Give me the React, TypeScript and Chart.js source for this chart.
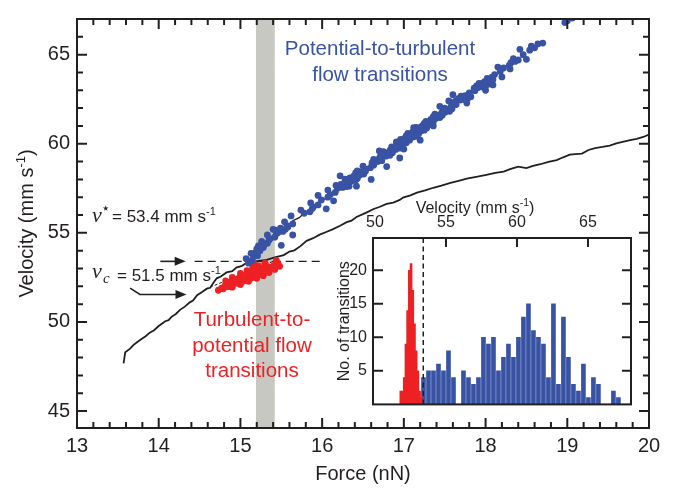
import React, { useEffect, useRef } from "react";
import { Chart, registerables } from "chart.js";

Chart.register(...registerables);

// ---------------- data ----------------
const forceTicks = [13, 14, 15, 16, 17, 18, 19, 20];
const velocityTicks = [45, 50, 55, 60, 65];
const forceRange = [13, 20];
const velocityRange = [44.05, 67];

// potential-to-turbulent transitions [force nN, velocity mm/s]
const potentialToTurbulent: [number, number][] = [
  [15.10, 53.30], [15.14, 53.45], [15.07, 53.55],
  [15.16, 53.65], [15.21, 53.72], [15.13, 53.85], [15.19, 53.92],
  [15.24, 54.0], [15.20, 54.10], [15.28, 54.18], [15.22, 54.27],
  [15.28, 54.35], [15.33, 54.42], [15.26, 54.52], [15.35, 54.6],
  [15.36, 54.68], [15.42, 54.76], [15.33, 54.88], [15.44, 54.95],
  [15.46, 55.02], [15.52, 55.08], [15.43, 55.15], [15.55, 55.2], [15.49, 55.27], [15.58, 55.33],
  [15.57, 55.4], [15.64, 55.5], [15.54, 55.62],
  [15.78, 56.1], [15.85, 56.18], [15.74, 56.28], [15.88, 56.36],
  [15.89, 56.45], [15.95, 56.57], [15.86, 56.68],
  [15.99, 56.85], [16.07, 57.0],
  [16.10, 57.15], [16.16, 57.27], [16.07, 57.4],
  [16.19, 57.5], [16.25, 57.55], [16.30, 57.6], [16.17, 57.66], [16.23, 57.72], [16.33, 57.62], [16.27, 57.78],
  [16.30, 57.85], [16.36, 57.9], [16.41, 57.96], [16.28, 58.02], [16.34, 58.08], [16.43, 58.05], [16.38, 58.13],
  [16.39, 58.2], [16.46, 58.24], [16.51, 58.3], [16.41, 58.36], [16.48, 58.42], [16.53, 58.45], [16.43, 58.48], [16.22, 58.2],
  [16.53, 58.58], [16.59, 58.66], [16.50, 58.74], [16.63, 58.8],
  [16.61, 58.92], [16.68, 59.0], [16.73, 59.05], [16.63, 59.12], [16.70, 59.18],
  [16.71, 59.26], [16.78, 59.3], [16.83, 59.35], [16.73, 59.42], [16.80, 59.47], [16.86, 59.5], [16.75, 59.55],
  [16.83, 59.62], [16.90, 59.68], [16.95, 59.75], [16.85, 59.82], [16.91, 59.88],
  [16.93, 59.95], [16.99, 60.0], [17.03, 60.05], [16.91, 60.1], [17.01, 60.15], [17.07, 60.2], [16.96, 60.24],
  [17.01, 60.3], [17.06, 60.33], [17.11, 60.38], [17.15, 60.42], [17.03, 60.45], [17.09, 60.5], [17.13, 60.52], [17.18, 60.55], [17.05, 60.58], [17.11, 60.61],
  [17.11, 60.66], [17.16, 60.7], [17.21, 60.72], [17.25, 60.76], [17.13, 60.8], [17.19, 60.82], [17.23, 60.86], [17.28, 60.88], [17.15, 60.92], [17.21, 60.95], [17.26, 60.97],
  [17.23, 61.02], [17.28, 61.06], [17.33, 61.1], [17.25, 61.14], [17.31, 61.18], [17.36, 61.22], [17.27, 61.26], [17.33, 61.3],
  [17.33, 61.36], [17.39, 61.42], [17.44, 61.47], [17.36, 61.52], [17.42, 61.57], [17.47, 61.6], [17.38, 61.66],
  [17.46, 61.72], [17.51, 61.78], [17.56, 61.82], [17.48, 61.88], [17.54, 61.93], [17.59, 61.96], [17.50, 62.0],
  [17.58, 62.1], [17.64, 62.2], [17.61, 62.32],
  [17.64, 62.42], [17.69, 62.45], [17.74, 62.48], [17.78, 62.52], [17.67, 62.55], [17.72, 62.58], [17.77, 62.61], [17.82, 62.64], [17.70, 62.67], [17.75, 62.7], [17.80, 62.73],
  [17.80, 62.85], [17.87, 62.98],
  [17.86, 63.12], [17.91, 63.15], [17.96, 63.19], [18.0, 63.22], [17.89, 63.25], [17.94, 63.28], [17.99, 63.32], [18.04, 63.35], [17.92, 63.38], [17.97, 63.42],
  [17.99, 63.48], [18.04, 63.55], [18.09, 63.6], [18.02, 63.66], [18.08, 63.74], [18.20, 63.75],
  [18.11, 63.88], [18.18, 64.05],
  [18.22, 64.25], [18.29, 64.4],
  [18.31, 64.55], [18.36, 64.62], [18.40, 64.7], [18.34, 64.78],
  [18.46, 65.0],
  [18.54, 65.25], [18.60, 65.38], [18.56, 65.48],
  [18.64, 65.6], [18.70, 65.65],
  [18.97, 66.8], [19.0, 66.9], [19.06, 67.05],
  // points scattered off the main band
  [15.64, 54.88], [15.5, 54.3], [15.95, 57.1], [16.05, 56.35], [16.42, 57.62], [16.6, 58.0], [16.79, 58.72],
  [16.91, 60.08], [16.95, 59.2], [17.2, 60.2], [17.12, 60.9], [17.36, 61.0], [17.44, 62.1], [17.55, 62.4],
  [17.77, 62.28], [18.0, 63.0], [18.09, 63.3], [18.3, 64.2], [18.42, 65.3], [18.5, 64.74], [15.4, 55.2],
  [15.62, 55.95], [16.14, 56.8], [16.7, 59.6], [17.0, 59.7], [17.6, 62.75], [18.15, 64.3],
];

// turbulent-to-potential transitions [force nN, velocity mm/s]
const turbulentToPotential: [number, number][] = [
  [14.73, 51.78], [14.79, 51.86], [14.77, 51.9], [14.85, 51.98], [14.81, 52.02], [14.89, 52.05], [14.85, 52.1],
  [14.85, 52.13], [14.91, 52.15], [14.96, 52.17], [14.89, 52.2], [14.94, 52.22], [14.99, 52.23],
  [14.89, 52.25], [14.94, 52.26], [14.99, 52.28], [15.03, 52.29], [14.92, 52.31], [14.97, 52.32], [15.01, 52.33], [15.06, 52.34], [14.95, 52.35], [15.0, 52.35],
  [14.94, 52.37], [14.98, 52.38], [15.02, 52.39], [15.06, 52.4], [15.1, 52.41], [14.96, 52.42], [15.01, 52.43], [15.05, 52.44], [15.09, 52.44], [15.13, 52.45], [14.99, 52.46], [15.04, 52.46], [15.08, 52.47], [15.11, 52.47],
  [14.99, 52.49], [15.03, 52.5], [15.07, 52.5], [15.11, 52.51], [15.15, 52.52], [15.01, 52.53], [15.05, 52.54], [15.09, 52.55], [15.13, 52.55], [15.17, 52.56], [15.04, 52.57], [15.08, 52.58], [15.12, 52.58], [15.16, 52.59], [15.2, 52.59],
  [15.06, 52.61], [15.1, 52.62], [15.14, 52.63], [15.18, 52.64], [15.22, 52.65], [15.08, 52.66], [15.12, 52.67], [15.16, 52.68], [15.2, 52.69], [15.24, 52.7], [15.11, 52.71], [15.17, 52.72],
  [15.11, 52.74], [15.16, 52.76], [15.21, 52.77], [15.26, 52.78], [15.14, 52.8], [15.19, 52.81], [15.24, 52.82], [15.29, 52.83],
  [15.18, 52.86], [15.23, 52.88], [15.28, 52.9], [15.21, 52.93], [15.31, 52.92], [15.26, 52.95],
  [15.24, 52.98], [15.29, 53.0], [15.34, 53.04], [15.37, 53.06],
  [15.33, 53.1], [15.41, 53.18],
  [15.46, 53.28], [15.16, 53.3], [15.44, 53.45],
  // edges of the band
  [14.82, 52.3], [14.9, 52.5], [15.0, 52.72], [15.08, 52.88], [15.15, 53.02], [15.22, 53.15], [15.3, 53.3],
  [15.0, 52.1], [15.1, 52.28], [15.2, 52.45], [15.28, 52.6], [15.35, 52.77], [15.42, 52.95], [15.48, 53.12], [14.9, 51.95],
];

// measured force sweep (black trace)
const forceSweep: [number, number][] = [
  [13.57, 47.67], [13.59, 48.3], [13.65, 48.5], [13.69, 48.7], [13.73, 48.85], [13.79, 49.04], [13.84, 49.2],
  [13.89, 49.4], [13.94, 49.52], [14.0, 49.77], [14.08, 50.04], [14.12, 50.1], [14.16, 50.3], [14.21, 50.45],
  [14.26, 50.68], [14.32, 50.86], [14.38, 51.1], [14.42, 51.2], [14.47, 51.5], [14.53, 51.68], [14.59, 51.87],
  [14.63, 51.92], [14.67, 52.2], [14.71, 52.45], [14.76, 52.55], [14.83, 52.78], [14.9, 52.85], [14.95, 53.05],
  [15.02, 53.15], [15.08, 53.33], [15.15, 53.36], [15.22, 53.42], [15.32, 53.48], [15.42, 53.62], [15.53, 53.75],
  [15.6, 53.95], [15.66, 54.02], [15.73, 54.24], [15.81, 54.55], [15.89, 54.7], [15.97, 54.9], [16.05, 55.05],
  [16.12, 55.18], [16.22, 55.4], [16.3, 55.6], [16.36, 55.68], [16.42, 55.89], [16.5, 56.05], [16.56, 56.18],
  [16.63, 56.34], [16.7, 56.45], [16.79, 56.62], [16.87, 56.7], [16.95, 56.85], [16.99, 56.98], [17.08, 57.1],
  [17.16, 57.26], [17.26, 57.38], [17.36, 57.53], [17.46, 57.65], [17.57, 57.81], [17.67, 57.92], [17.77, 58.04],
  [17.9, 58.15], [18.01, 58.26], [18.12, 58.36], [18.22, 58.44], [18.3, 58.58], [18.4, 58.72], [18.5, 58.63],
  [18.58, 58.76], [18.67, 58.85], [18.77, 58.98], [18.87, 59.08], [18.95, 59.24], [19.03, 59.39], [19.1, 59.42],
  [19.18, 59.45], [19.26, 59.65], [19.34, 59.76], [19.43, 59.82], [19.52, 59.9], [19.6, 60.02], [19.69, 60.12],
  [19.77, 60.2], [19.85, 60.27], [19.93, 60.38], [20.0, 60.52],
];

// second trace running under the blue points
const upperSweep: [number, number][] = [
  [15.08, 53.33], [15.18, 53.6], [15.24, 53.85], [15.3, 54.15], [15.37, 54.5], [15.44, 54.85], [15.53, 55.3],
  [15.6, 55.5], [15.65, 55.7], [15.72, 55.85], [15.77, 56.07], [15.85, 56.29], [15.92, 56.5], [15.98, 56.75],
  [16.09, 57.07], [16.15, 57.2], [16.22, 57.5], [16.3, 57.72], [16.38, 57.95], [16.47, 58.3], [16.55, 58.55],
  [16.63, 58.8], [16.72, 59.2], [16.8, 59.55],
];

const redFit: [number, number][] = [[14.57, 51.84], [15.4, 53.4]];
const greyBand = [15.19, 15.42];
const vStar = 53.4;
const vStarDash = [14.44, 16.0];
const vStarArrow: [number, number][] = [[14.02, 53.4], [14.33, 53.4]];
const vcArrow: [number, number][] = [[13.65, 51.9], [13.77, 51.54], [14.34, 51.54]];

// inset histogram
const histVelocityTicks = [50, 55, 60, 65];
const histCountTicks = [5, 10, 15, 20];
const histVelocityRange = [49.86, 68.03];
const histCountMax = 24.8;
const blueBinStart = 53.24;
const blueBinWidth = 0.352;
const blueCounts = [4, 5, 5, 6, 5, 8, 4, 0, 5, 4, 3, 4, 10, 9, 10, 5, 7, 9, 7, 10, 13, 15, 11, 10, 9, 4, 15, 3, 13, 7, 3, 2, 6, 1, 4, 3, 0, 0, 2, 1];
const redBinStart = 51.76;
const redBinWidth = 0.12;
const redCounts = [2, 2, 4, 9, 14, 20, 21, 17, 12, 8, 5, 2, 1];

// ---------------- styles ----------------
const BLUE = "#3953a4";
const RED = "#ed2124";
const GREY = "#c7c8c1";
const INK = "#231f20";
const SANS = "'Liberation Sans', Arial, Helvetica, sans-serif";
const SERIF = "'Liberation Serif', 'Times New Roman', serif";

type Part = { t: string; f: string; dy?: number };

function drawRich(ctx: CanvasRenderingContext2D, parts: Part[], x: number, y: number, align: "left" | "center") {
  let total = 0;
  for (const p of parts) {
    ctx.font = p.f;
    total += ctx.measureText(p.t).width;
  }
  let cx = align === "center" ? x - total / 2 : x;
  ctx.textAlign = "left";
  ctx.textBaseline = "alphabetic";
  for (const p of parts) {
    ctx.font = p.f;
    ctx.fillText(p.t, cx, y + (p.dy || 0));
    cx += ctx.measureText(p.t).width;
  }
}

function arrow(ctx: CanvasRenderingContext2D, pts: [number, number][]) {
  const n = pts.length;
  const [tx, ty] = pts[n - 1];
  const [px, py] = pts[n - 2];
  const ang = Math.atan2(ty - py, tx - px);
  const head = 11;
  const half = 4.5;
  ctx.beginPath();
  ctx.moveTo(pts[0][0], pts[0][1]);
  for (let i = 1; i < n - 1; i++) ctx.lineTo(pts[i][0], pts[i][1]);
  ctx.lineTo(tx - Math.cos(ang) * head * 0.8, ty - Math.sin(ang) * head * 0.8);
  ctx.stroke();
  ctx.beginPath();
  ctx.moveTo(tx, ty);
  ctx.lineTo(tx - Math.cos(ang) * head + Math.sin(ang) * half, ty - Math.sin(ang) * head - Math.cos(ang) * half);
  ctx.lineTo(tx - Math.cos(ang) * head - Math.sin(ang) * half, ty - Math.sin(ang) * head + Math.cos(ang) * half);
  ctx.closePath();
  ctx.fill();
}

const mainDecor = {
  id: "mainDecor",
  beforeDatasetsDraw(chart: any) {
    const { ctx, chartArea: a, scales } = chart;
    const x = scales.x, y = scales.y;
    ctx.save();
    ctx.fillStyle = GREY;
    const x0 = x.getPixelForValue(greyBand[0]);
    const x1 = x.getPixelForValue(greyBand[1]);
    ctx.fillRect(x0, a.top, x1 - x0, a.bottom - a.top);
    ctx.strokeStyle = INK;
    ctx.lineWidth = 1.4;
    ctx.setLineDash([8, 5]);
    const yy = y.getPixelForValue(vStar);
    ctx.beginPath();
    ctx.moveTo(x.getPixelForValue(vStarDash[0]), yy);
    ctx.lineTo(x.getPixelForValue(vStarDash[1]), yy);
    ctx.stroke();
    ctx.restore();
  },
  afterDatasetsDraw(chart: any) {
    const { ctx, chartArea: a, scales } = chart;
    const x = scales.x, y = scales.y;
    ctx.save();
    ctx.strokeStyle = INK;
    ctx.fillStyle = INK;
    ctx.lineWidth = 2;
    ctx.strokeRect(a.left, a.top, a.right - a.left, a.bottom - a.top);
    ctx.beginPath();
    for (let i = 0; i <= 35; i++) {
      const f = forceRange[0] + i * 0.2;
      const L = i % 5 === 0 ? 10 : 6;
      const px = x.getPixelForValue(f);
      ctx.moveTo(px, a.bottom); ctx.lineTo(px, a.bottom - L);
      ctx.moveTo(px, a.top); ctx.lineTo(px, a.top + L);
    }
    for (let v = 45; v <= 66; v++) {
      const L = v % 5 === 0 ? 10 : 6;
      const py = y.getPixelForValue(v);
      ctx.moveTo(a.left, py); ctx.lineTo(a.left + L, py);
      ctx.moveTo(a.right, py); ctx.lineTo(a.right - L, py);
    }
    ctx.stroke();

    // arrows
    ctx.lineWidth = 1.6;
    const toPx = (p: [number, number]): [number, number] => [x.getPixelForValue(p[0]), y.getPixelForValue(p[1])];
    arrow(ctx, vStarArrow.map(toPx));
    arrow(ctx, vcArrow.map(toPx));

    // v* and vc labels
    ctx.fillStyle = INK;
    drawRich(ctx, [{ t: "v", f: `italic 22px ${SERIF}` }], 92, 222, "left");
    drawRich(ctx, [{ t: "\u22C6", f: `15px 'DejaVu Sans', sans-serif` }], 101, 213, "left");
    drawRich(ctx, [
      { t: "= 53.4 mm s", f: `17px ${SANS}` },
      { t: "-1", f: `11px ${SANS}`, dy: -7 },
    ], 112, 222, "left");
    drawRich(ctx, [{ t: "v", f: `italic 22px ${SERIF}` }], 92, 278, "left");
    drawRich(ctx, [{ t: "c", f: `italic 15px ${SERIF}` }], 103, 283, "left");
    drawRich(ctx, [
      { t: "= 51.5 mm s", f: `17px ${SANS}` },
      { t: "-1", f: `11px ${SANS}`, dy: -7 },
    ], 117, 281, "left");

    // series labels
    ctx.fillStyle = BLUE;
    drawRich(ctx, [{ t: "Potential-to-turbulent", f: `20.5px ${SANS}` }], 380, 55, "center");
    drawRich(ctx, [{ t: "flow transitions", f: `20.5px ${SANS}` }], 380, 81, "center");
    ctx.fillStyle = RED;
    drawRich(ctx, [{ t: "Turbulent-to-", f: `20.5px ${SANS}` }], 252, 326, "center");
    drawRich(ctx, [{ t: "potential flow", f: `20.5px ${SANS}` }], 252, 352, "center");
    drawRich(ctx, [{ t: "transitions", f: `20.5px ${SANS}` }], 252, 377, "center");

    // axis titles
    ctx.fillStyle = INK;
    drawRich(ctx, [{ t: "Force (nN)", f: `20px ${SANS}` }], (a.left + a.right) / 2, 480, "center");
    ctx.translate(33, (a.top + a.bottom) / 2);
    ctx.rotate(-Math.PI / 2);
    drawRich(ctx, [
      { t: "Velocity (mm s", f: `20px ${SANS}` },
      { t: "-1", f: `13px ${SANS}`, dy: -8 },
      { t: ")", f: `20px ${SANS}` },
    ], 0, 0, "center");
    ctx.restore();
  },
};

const insetDecor = {
  id: "insetDecor",
  afterDatasetsDraw(chart: any) {
    const { ctx, chartArea: a, scales } = chart;
    const x = scales.x, y = scales.y;
    ctx.save();
    ctx.strokeStyle = INK;
    ctx.fillStyle = INK;
    // dashed v* marker
    ctx.lineWidth = 1.5;
    ctx.setLineDash([5, 3.5]);
    const vx = x.getPixelForValue(vStar);
    ctx.beginPath();
    ctx.moveTo(vx, a.bottom);
    ctx.lineTo(vx, a.top);
    ctx.stroke();
    ctx.setLineDash([]);
    // frame + ticks
    ctx.lineWidth = 2;
    ctx.strokeRect(a.left, a.top, a.right - a.left, a.bottom - a.top);
    ctx.beginPath();
    for (const v of histVelocityTicks) {
      const px = x.getPixelForValue(v);
      if (px - a.left < 5) continue;
      ctx.moveTo(px, a.top); ctx.lineTo(px, a.top + 9);
    }
    for (const c of histCountTicks) {
      const py = y.getPixelForValue(c);
      ctx.moveTo(a.left, py); ctx.lineTo(a.left + 10, py);
      ctx.moveTo(a.right, py); ctx.lineTo(a.right - 9, py);
    }
    ctx.stroke();
    // titles
    drawRich(ctx, [
      { t: "Velocity (mm s", f: `16px ${SANS}` },
      { t: "-1", f: `10.5px ${SANS}`, dy: -7 },
      { t: ")", f: `16px ${SANS}` },
    ], 175, 23, "center");
    ctx.translate(49, (a.top + a.bottom) / 2);
    ctx.rotate(-Math.PI / 2);
    drawRich(ctx, [{ t: "No. of transitions", f: `16px ${SANS}` }], 0, 0, "center");
    ctx.restore();
  },
};

export default function App() {
  const mainRef = useRef<HTMLCanvasElement>(null);
  const insetRef = useRef<HTMLCanvasElement>(null);

  useEffect(() => {
    const pts = (arr: [number, number][]) => arr.map(([fx, vy]) => ({ x: fx, y: vy }));
    const main = new Chart(mainRef.current as HTMLCanvasElement, {
      type: "scatter",
      data: {
        datasets: [
          { data: pts(potentialToTurbulent), backgroundColor: BLUE, borderWidth: 0, pointRadius: 3.4, pointHoverRadius: 3.4 },
          { data: pts(turbulentToPotential), backgroundColor: RED, borderWidth: 0, pointRadius: 3.4, pointHoverRadius: 3.4 },
          { data: pts(forceSweep), showLine: true, borderColor: INK, borderWidth: 1.8, pointRadius: 0, tension: 0 },
          { data: pts(upperSweep), showLine: true, borderColor: INK, borderWidth: 1.3, pointRadius: 0, tension: 0 },
          { data: pts(redFit), showLine: true, borderColor: INK, borderWidth: 1, borderDash: [3, 2], pointRadius: 0 },
        ] as any,
      },
      options: {
        responsive: false,
        animation: false,
        devicePixelRatio: 1,
        events: [],
        layout: { padding: { top: 11, right: 27, bottom: 0, left: 0 } },
        plugins: { legend: { display: false }, tooltip: { enabled: false } },
        scales: {
          x: {
            type: "linear",
            min: forceRange[0],
            max: forceRange[1],
            grid: { display: false, drawTicks: false },
            border: { display: false },
            ticks: { font: { family: SANS, size: 20 }, color: INK, padding: 6, autoSkip: false, maxRotation: 0, callback: (v: any) => String(v) },
            afterBuildTicks: (s: any) => { s.ticks = forceTicks.map((value) => ({ value })); },
            afterFit: (s: any) => { s.height = 60; },
          },
          y: {
            type: "linear",
            min: velocityRange[0],
            max: velocityRange[1],
            grid: { display: false, drawTicks: false },
            border: { display: false },
            ticks: { font: { family: SANS, size: 20 }, color: INK, padding: 7, autoSkip: false, callback: (v: any) => String(v) },
            afterBuildTicks: (s: any) => { s.ticks = velocityTicks.map((value) => ({ value })); },
            afterFit: (s: any) => { s.width = 77; },
          },
        },
      } as any,
      plugins: [mainDecor],
    });

    const blueBars = blueCounts.map((c, i) => ({ x: blueBinStart + (i + 0.5) * blueBinWidth, y: c }));
    const redBars = redCounts.map((c, i) => ({ x: redBinStart + (i + 0.5) * redBinWidth, y: c }));
    const inset = new Chart(insetRef.current as HTMLCanvasElement, {
      type: "bar",
      data: {
        datasets: [
          { data: redBars, backgroundColor: RED, borderWidth: 0, barThickness: 2, grouped: false },
          { data: blueBars, backgroundColor: BLUE, borderWidth: 0, barThickness: 4, grouped: false },
        ] as any,
      },
      options: {
        responsive: false,
        animation: false,
        devicePixelRatio: 1,
        events: [],
        layout: { padding: { top: 0, right: 9, bottom: 11, left: 0 } },
        plugins: { legend: { display: false }, tooltip: { enabled: false } },
        scales: {
          x: {
            type: "linear",
            position: "top",
            offset: false,
            min: histVelocityRange[0],
            max: histVelocityRange[1],
            grid: { display: false, drawTicks: false, offset: false },
            border: { display: false },
            ticks: { font: { family: SANS, size: 16 }, color: INK, padding: 6, autoSkip: false, maxRotation: 0, callback: (v: any) => String(v) },
            afterBuildTicks: (s: any) => { s.ticks = histVelocityTicks.map((value) => ({ value })); },
            afterFit: (s: any) => { s.height = 48; },
          },
          y: {
            type: "linear",
            min: 0,
            max: histCountMax,
            grid: { display: false, drawTicks: false },
            border: { display: false },
            ticks: { font: { family: SANS, size: 16 }, color: INK, padding: 6, autoSkip: false, callback: (v: any) => String(v) },
            afterBuildTicks: (s: any) => { s.ticks = histCountTicks.map((value) => ({ value })); },
            afterFit: (s: any) => { s.width = 73; },
          },
        },
      } as any,
      plugins: [insetDecor],
    });

    return () => {
      main.destroy();
      inset.destroy();
    };
  }, []);

  return (
    <div style={{ position: "absolute", left: 0, top: 0, width: 676, height: 488, background: "#ffffff", overflow: "hidden" }}>
      <canvas ref={mainRef} width={676} height={488} style={{ position: "absolute", left: 0, top: 0 }} />
      <canvas ref={insetRef} width={340} height={230} style={{ position: "absolute", left: 300, top: 190 }} />
    </div>
  );
}
